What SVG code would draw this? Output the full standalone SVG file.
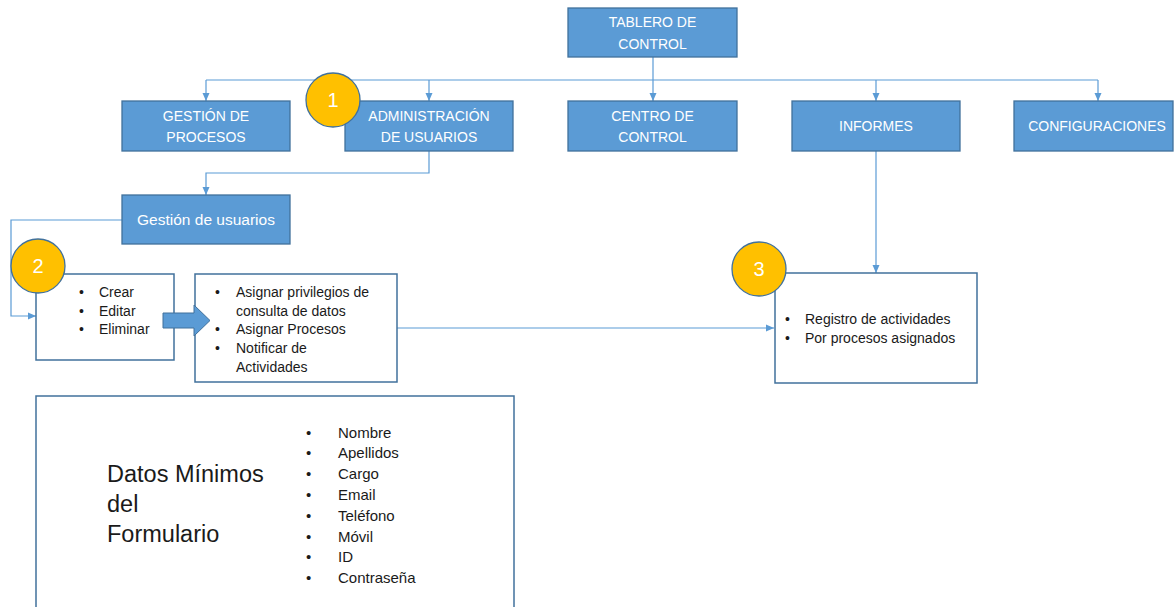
<svg xmlns="http://www.w3.org/2000/svg" width="1174" height="607" viewBox="0 0 1174 607">
<style>
.bx{fill:#5b9bd5;stroke:#41719c;stroke-width:1.3}
.wb{fill:#ffffff;stroke:#41719c;stroke-width:1.5}
.ln{fill:none;stroke:#5b9bd5;stroke-width:1.2}
.wt{font-family:"Liberation Sans",Arial,sans-serif;font-size:14px;fill:#ffffff;text-anchor:middle}
.bt{font-family:"Liberation Sans",Arial,sans-serif;font-size:14px;fill:#1a1a1a}
.ct{fill:#ffc000;stroke:#41719c;stroke-width:1.3}
.cn{font-family:"Liberation Sans",Arial,sans-serif;font-size:20px;fill:#ffffff;text-anchor:middle}
.lt{font-family:"Liberation Sans",Arial,sans-serif;font-size:15px;fill:#1a1a1a}
.big{font-family:"Liberation Sans",Arial,sans-serif;font-size:23.5px;fill:#1a1a1a}
</style>
<defs>
<marker id="ah" markerUnits="userSpaceOnUse" markerWidth="10" markerHeight="10" viewBox="0 0 10 10" refX="9" refY="5" orient="auto">
<path d="M1,1.5 L9,5 L1,8.5 Z" fill="#5b9bd5"/>
</marker>
</defs>
<g id="connectors">
<path class="ln" d="M653,57 V80"/>
<path class="ln" d="M206,80 H1098"/>
<path class="ln" d="M206,80 V101" marker-end="url(#ah)"/>
<path class="ln" d="M429,80 V101" marker-end="url(#ah)"/>
<path class="ln" d="M653,80 V101" marker-end="url(#ah)"/>
<path class="ln" d="M876,80 V101" marker-end="url(#ah)"/>
<path class="ln" d="M1098,80 V101" marker-end="url(#ah)"/>
<path class="ln" d="M429,151 V173 H206 V195" marker-end="url(#ah)"/>
<path class="ln" d="M122,220 H11 V316 H36" marker-end="url(#ah)"/>
<path class="ln" d="M397,328 H774" marker-end="url(#ah)"/>
<path class="ln" d="M876,151 V273" marker-end="url(#ah)"/>
</g>
<g id="tablero">
<rect class="bx" x="568" y="8" width="169" height="49"/>
<text class="wt" x="652.5" y="27">TABLERO DE</text>
<text class="wt" x="652.5" y="49">CONTROL</text>
</g>
<g id="gestion-procesos">
<rect class="bx" x="122" y="101" width="168" height="50"/>
<text class="wt" x="206" y="121">GESTIÓN DE</text>
<text class="wt" x="206" y="142">PROCESOS</text>
</g>
<g id="admin-usuarios">
<rect class="bx" x="345" y="101" width="168" height="50"/>
<text class="wt" x="429" y="121">ADMINISTRACIÓN</text>
<text class="wt" x="429" y="142">DE USUARIOS</text>
</g>
<g id="centro-control">
<rect class="bx" x="568" y="101" width="169" height="50"/>
<text class="wt" x="652.5" y="121">CENTRO DE</text>
<text class="wt" x="652.5" y="142">CONTROL</text>
</g>
<g id="informes">
<rect class="bx" x="792" y="101" width="168" height="50"/>
<text class="wt" x="876" y="131">INFORMES</text>
</g>
<g id="configuraciones">
<rect class="bx" x="1014" y="101" width="159" height="50"/>
<text class="wt" x="1097" y="131">CONFIGURACIONES</text>
</g>
<g id="badge-1">
<circle class="ct" cx="333" cy="100" r="27"/>
<text class="cn" x="333" y="107">1</text>
</g>
<g id="gestion-usuarios">
<rect class="bx" x="122" y="195" width="168" height="49"/>
<text class="wt" x="206" y="225" style="font-size:15.5px">Gestión de usuarios</text>
</g>
<g id="crud">
<rect class="wb" x="36" y="274" width="138" height="86"/>
<text class="bt" x="79" y="297">•</text><text class="bt" x="99" y="297">Crear</text>
<text class="bt" x="79" y="316">•</text><text class="bt" x="99" y="316">Editar</text>
<text class="bt" x="79" y="334">•</text><text class="bt" x="99" y="334">Eliminar</text>
</g>
<g id="badge-2">
<circle class="ct" cx="38" cy="266" r="27"/>
<text class="cn" x="38" y="273">2</text>
</g>
<g id="asignar">
<rect class="wb" x="195" y="274" width="202" height="108"/>
<text class="bt" x="215" y="297">•</text><text class="bt" x="236" y="297">Asignar privilegios de</text>
<text class="bt" x="236" y="316">consulta de datos</text>
<text class="bt" x="215" y="334">•</text><text class="bt" x="236" y="334">Asignar Procesos</text>
<text class="bt" x="215" y="353">•</text><text class="bt" x="236" y="353">Notificar de</text>
<text class="bt" x="236" y="372">Actividades</text>
</g>
<g id="block-arrow">
<path d="M163,313 H194 V305 L210,320.5 L194,336 V328 H163 Z" fill="#5b9bd5" stroke="#41719c" stroke-width="1"/>
</g>
<g id="registro">
<rect class="wb" x="775" y="273" width="202" height="110"/>
<text class="bt" x="785" y="324">•</text><text class="bt" x="805" y="324">Registro de actividades</text>
<text class="bt" x="785" y="343">•</text><text class="bt" x="805" y="343">Por procesos asignados</text>
</g>
<g id="badge-3">
<circle class="ct" cx="759" cy="269" r="27"/>
<text class="cn" x="759" y="276">3</text>
</g>
<g id="datos-minimos">
<rect class="wb" x="36" y="396" width="478" height="220"/>
<text class="big" x="107" y="482">Datos Mínimos</text>
<text class="big" x="107" y="512">del</text>
<text class="big" x="107" y="542">Formulario</text>
<text class="lt" x="306" y="438">•</text><text class="lt" x="338" y="438">Nombre</text>
<text class="lt" x="306" y="458">•</text><text class="lt" x="338" y="458">Apellidos</text>
<text class="lt" x="306" y="479">•</text><text class="lt" x="338" y="479">Cargo</text>
<text class="lt" x="306" y="500">•</text><text class="lt" x="338" y="500">Email</text>
<text class="lt" x="306" y="521">•</text><text class="lt" x="338" y="521">Teléfono</text>
<text class="lt" x="306" y="542">•</text><text class="lt" x="338" y="542">Móvil</text>
<text class="lt" x="306" y="562">•</text><text class="lt" x="338" y="562">ID</text>
<text class="lt" x="306" y="583">•</text><text class="lt" x="338" y="583">Contraseña</text>
</g>
</svg>
